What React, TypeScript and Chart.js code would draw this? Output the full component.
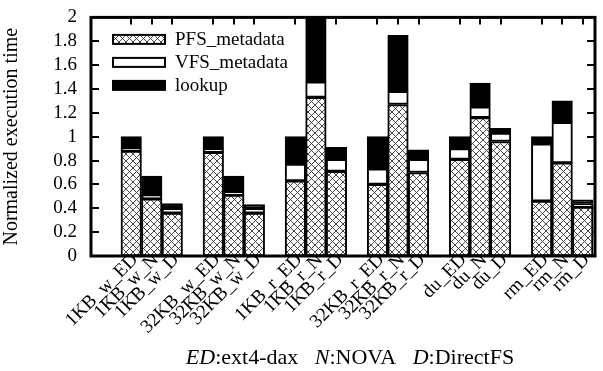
import React, { useEffect, useRef } from "react";
import { Chart, registerables } from "chart.js";
Chart.register(...registerables);

const categories = [
  "1KB_w_ED", "1KB_w_N", "1KB_w_D",
  "32KB_w_ED", "32KB_w_N", "32KB_w_D",
  "1KB_r_ED", "1KB_r_N", "1KB_r_D",
  "32KB_r_ED", "32KB_r_N", "32KB_r_D",
  "du_ED", "du_N", "du_D",
  "rm_ED", "rm_N", "rm_D",
];
const pfsMetadata = [0.88, 0.48, 0.36, 0.87, 0.51, 0.36, 0.63, 1.33, 0.71, 0.6, 1.27, 0.7, 0.81, 1.16, 0.96, 0.46, 0.78, 0.41];
const vfsMetadata = [0.03, 0.03, 0.04, 0.03, 0.03, 0.04, 0.14, 0.13, 0.1, 0.13, 0.11, 0.11, 0.09, 0.09, 0.07, 0.48, 0.34, 0.03];
const lookup = [0.09, 0.16, 0.04, 0.1, 0.13, 0.03, 0.23, 0.7, 0.1, 0.27, 0.47, 0.08, 0.1, 0.2, 0.04, 0.06, 0.18, 0.03];
const seriesNames = ["PFS_metadata", "VFS_metadata", "lookup"];
const yTickValues = [0, 0.2, 0.4, 0.6, 0.8, 1, 1.2, 1.4, 1.6, 1.8, 2];
const yTitle = "Normalized execution time";
const captionParts: [string, boolean][] = [
  ["ED", true], [":ext4-dax", false], ["   ", false],
  ["N", true], [":NOVA", false], ["   ", false],
  ["D", true], [":DirectFS", false],
];

const FONT = "'Liberation Serif', 'Times New Roman', serif";

export default function App() {
  const ref = useRef<HTMLCanvasElement>(null);
  useEffect(() => {
    document.body.style.margin = "0";
    const canvas = ref.current!;
    const pc = document.createElement("canvas");
    pc.width = 7;
    pc.height = 7;
    const p = pc.getContext("2d")!;
    p.fillStyle = "#ffffff";
    p.fillRect(0, 0, 7, 7);
    p.strokeStyle = "#333";
    p.lineWidth = 0.9;
    p.beginPath();
    p.moveTo(-1, -1); p.lineTo(8, 8);
    p.moveTo(8, -1); p.lineTo(-1, 8);
    p.stroke();
    const hatch = canvas.getContext("2d")!.createPattern(pc, "repeat")!;
    const fills: any[] = [hatch, "#ffffff", "#000000"];
    const series = [pfsMetadata, vfsMetadata, lookup];
    const xPos = categories.map((_, i) => Math.floor(i / 3) * 4 + (i % 3));

    const datasets = seriesNames.map((name, s) => ({
      label: name,
      data: series[s].map((v, i) => ({ x: xPos[i], y: v })),
      backgroundColor: fills[s],
      borderColor: "#000",
      borderWidth: 2,
      borderSkipped: false as const,
      barPercentage: 1,
      categoryPercentage: 1,
    }));

    const decor = {
      id: "decor",
      beforeDatasetsDraw(chart: any) {
        const { ctx, chartArea: a, scales } = chart;
        ctx.save();
        ctx.strokeStyle = "#000";
        ctx.lineWidth = 2;
        ctx.beginPath();
        yTickValues.forEach((v) => {
          const y = Math.round(scales.y.getPixelForValue(v));
          ctx.moveTo(a.left, y); ctx.lineTo(a.left + 8, y);
          ctx.moveTo(a.right, y); ctx.lineTo(a.right - 8, y);
        });
        xPos.forEach((v) => {
          const x = Math.round(scales.x.getPixelForValue(v));
          ctx.moveTo(x, a.top); ctx.lineTo(x, a.top + 7);
          ctx.moveTo(x, a.bottom); ctx.lineTo(x, a.bottom - 7);
        });
        ctx.stroke();
        ctx.restore();
      },
      afterDatasetsDraw(chart: any) {
        const { ctx, chartArea: a } = chart;
        ctx.save();
        ctx.strokeStyle = "#000";
        ctx.lineWidth = 3;
        ctx.strokeRect(a.left, a.top, a.right - a.left, a.bottom - a.top);

        // legend
        chart.data.datasets.forEach((ds: any, i: number) => {
          const cy = a.top + 22 + i * 23;
          const bx = a.left + 21, bw = 54, bh = 11;
          ctx.fillStyle = "#000";
          ctx.fillRect(bx, cy - bh / 2, bw, bh);
          ctx.fillStyle = ds.backgroundColor;
          ctx.fillRect(bx + 2, cy - bh / 2 + 2, bw - 4, bh - 4);
          ctx.fillStyle = "#000";
          ctx.font = `19px ${FONT}`;
          ctx.textAlign = "left";
          ctx.textBaseline = "middle";
          ctx.fillText(ds.label, a.left + 84, cy + 1);
        });

        // caption
        ctx.textBaseline = "alphabetic";
        const fontFor = (it: boolean) => `${it ? "italic " : ""}22px ${FONT}`;
        let total = 0;
        captionParts.forEach(([t, it]) => { ctx.font = fontFor(it); total += ctx.measureText(t).width; });
        let x = 350 - total / 2;
        captionParts.forEach(([t, it]) => {
          ctx.font = fontFor(it);
          ctx.fillText(t, x, 364);
          x += ctx.measureText(t).width;
        });
        ctx.restore();
      },
    };

    const chart = new Chart(canvas, {
      type: "bar",
      data: { datasets },
      options: {
        animation: false,
        responsive: false,
        devicePixelRatio: 1,
        layout: { padding: { top: 15, right: 8, left: 0, bottom: 0 } },
        plugins: { legend: { display: false }, tooltip: { enabled: false } },
        scales: {
          x: {
            type: "linear",
            min: -1.96,
            max: 22.6,
            offset: false,
            stacked: true,
            grid: { display: false },
            border: { display: false },
            afterBuildTicks: (s: any) => { s.ticks = xPos.map((v) => ({ value: v })); },
            afterFit: (s: any) => { s.height = 115; },
            ticks: {
              autoSkip: false,
              minRotation: 45,
              maxRotation: 45,
              padding: -15,
              labelOffset: 4,
              color: "#000",
              font: { family: FONT, size: 19 },
              callback: (v: any) => categories[xPos.indexOf(Number(v))] ?? "",
            },
          },
          y: {
            min: 0,
            max: 2,
            stacked: true,
            grid: { display: false },
            border: { display: false },
            afterBuildTicks: (s: any) => { s.ticks = yTickValues.map((v) => ({ value: v })); },
            afterFit: (s: any) => { s.width = 91; },
            ticks: {
              autoSkip: false,
              padding: 6,
              color: "#000",
              font: { family: FONT, size: 19 },
              callback: (v: any) => String(Number(Number(v).toFixed(1))),
            },
            title: {
              display: true,
              text: yTitle,
              color: "#000",
              font: { family: FONT, size: 20 },
              padding: { top: 0, bottom: 0 },
            },
          },
        },
      },
      plugins: [decor],
    } as any);
    return () => chart.destroy();
  }, []);
  return <canvas ref={ref} width={603} height={371} style={{ display: "block" }} />;
}
